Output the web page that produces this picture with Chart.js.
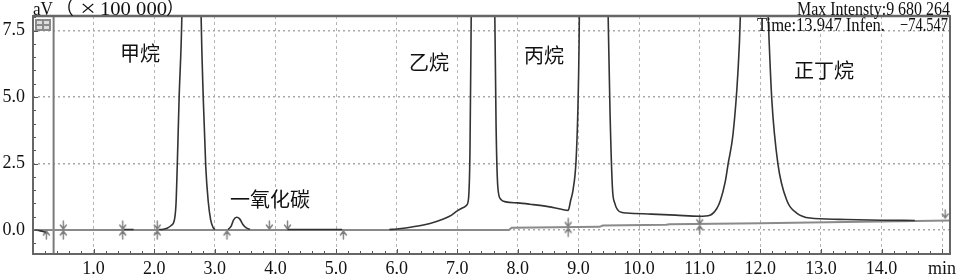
<!DOCTYPE html>
<html><head><meta charset="utf-8">
<style>html,body{margin:0;padding:0;background:#fff;}canvas{display:block;}</style>
<script src="https://cdn.jsdelivr.net/npm/chart.js@4/dist/chart.umd.min.js"></script>
</head><body>
<canvas id="c" width="957" height="279"></canvas>
<script>
// ---- data ----
const sigTime = [0.03,0.12,0.21,0.3,
 1.50,1.66,1.7,
 2.08,2.15,2.22,2.28,2.33,2.36,2.38,2.41,2.46,2.52,2.62,2.71,2.77,2.81,2.85,2.89,2.93,2.97,3.0,3.05,
 3.22,3.27,3.31,3.36,3.41,3.46,3.52,3.58,3.6,
 4.2,5.1,5.15,
 5.88,6.0,6.15,6.4,6.55,6.75,6.9,7.0,7.1,7.16,7.19,7.21,7.23,7.27,7.35,7.45,7.54,7.59,7.62,7.64,7.67,7.72,7.8,8.0,8.2,8.5,8.72,8.83,8.87,8.91,8.96,8.99,9.01,9.04,9.2,9.4,9.45,9.49,9.52,9.56,9.6,9.65,9.72,9.8,10.2,10.6,11.0,11.17,11.28,11.34,11.42,11.47,11.55,11.63,11.67,11.72,11.9,12.06,12.13,12.19,12.29,12.44,12.6,12.82,13.3,14.0,14.55];
const sigValue = [0,-0.03,-0.08,null,
 0.02,0.02,null,
 0.02,0.03,0.08,0.17,0.35,1.0,2.4,4.9,8.5,20,40,20,8.5,4.9,2.4,1.1,0.4,0.1,0.02,null,
 0.02,0.15,0.38,0.48,0.42,0.22,0.08,0.03,null,
 0.02,0.02,null,
 0.02,0.04,0.08,0.17,0.25,0.4,0.55,0.72,0.85,0.95,1.3,3,8,20,45,45,20,10,8,4,1.6,1.15,1.06,1.02,0.97,0.88,0.78,0.74,1.1,1.5,2.6,4.5,7,15,50,20,12,8,4.5,1.6,1.0,0.75,0.66,0.64,0.6,0.56,0.52,0.56,0.8,1.1,1.8,2.5,3.6,5.9,8,14,96.8,14,8,4.9,2.5,1.1,0.64,0.45,0.4,0.37,0.36];
const baseTime = [0,7.85,7.9,9.35,9.4,10.45,10.5,12.0,13.1,14.0,15.13];
const baseValue = [0,0,0.09,0.12,0.17,0.2,0.22,0.26,0.29,0.32,0.36];
const markTime = [0.22,0.5,1.48,2.05,3.2,3.9,4.2,5.12,8.83,11.0,15.05];
const markValue = [0,0,0,0,0,0,0,0,0.1,0.2,0.42];
const markKind = ['up','star','star','star','up','down','down','up','star','star','down'];
const xTicks = [1,2,3,4,5,6,7,8,9,10,11,12,13,14,15];
const xTickLabels = ['1.0','2.0','3.0','4.0','5.0','6.0','7.0','8.0','9.0','10.0','11.0','12.0','13.0','14.0','min'];
const yTicks = [0,2.5,5,7.5];
const yTickLabels = ['0.0','2.5','5.0','7.5'];
const peakNames = ['甲烷','一氧化碳','乙烷','丙烷','正丁烷'];
const yUnitParts = ['aV','（','×','100 000','）'];
const infoLine1 = 'Max Intensty:9 680 264';
const infoLine2a = 'Time:13.947 Infen.';
const infoLine2b = '−74.547';

// ---- marker glyphs ----
function makeMarker(kind){
  const c=document.createElement('canvas'); c.width=11; c.height=22;
  const g=c.getContext('2d'); g.strokeStyle='#7c7c7c'; g.lineWidth=1.4; g.lineCap='round';
  const cx=5.5, cy=11;
  function up(){ g.beginPath(); g.moveTo(cx,cy+9); g.lineTo(cx,cy+1); g.moveTo(cx-3,cy+5); g.lineTo(cx,cy+1); g.lineTo(cx+3,cy+5); g.stroke(); }
  function down(){ g.beginPath(); g.moveTo(cx,cy-9); g.lineTo(cx,cy-1); g.moveTo(cx-3,cy-5); g.lineTo(cx,cy-1); g.lineTo(cx+3,cy-5); g.stroke(); }
  if(kind==='up') up(); else if(kind==='down') down(); else { up(); down(); }
  return c;
}
const glyphs = {up:makeMarker('up'), down:makeMarker('down'), star:makeMarker('star')};

const serif = '"Liberation Serif","Times New Roman",serif';
const cjk = '"Noto Sans CJK SC","Noto Sans CJK JP",sans-serif';

function fitText(ctx, text, x, y, w, align, allowStretch){
  const m = ctx.measureText(text).width;
  let s = w/m; if(!allowStretch) s = Math.min(1,s);
  ctx.save(); ctx.translate(x,y); ctx.scale(s,1);
  ctx.textAlign = align; ctx.fillText(text,0,0); ctx.restore();
}

const decor = {
  id:'decor',
  beforeDatasetsDraw(chart){
    const {ctx, chartArea:a, scales:{x}} = chart;
    ctx.save();
    const px = x.getPixelForValue(0.34);
    ctx.strokeStyle='#7a7a7a'; ctx.lineWidth=2;
    ctx.beginPath(); ctx.moveTo(px,a.top); ctx.lineTo(px,a.bottom); ctx.stroke();
    ctx.restore();
  },
  afterDraw(chart){
    const {ctx, chartArea:a, scales:{x,y}} = chart;
    ctx.save();
    // inward minor ticks
    ctx.strokeStyle='#555'; ctx.lineWidth=1;
    for(let i=1;i<=80;i++){
      const px=Math.round(x.getPixelForValue(i*0.2))+0.5;
      if(px>a.right-1) break;
      ctx.beginPath(); ctx.moveTo(px,a.bottom); ctx.lineTo(px,a.bottom-(i%5===0?5:3)); ctx.stroke();
    }
    for(let i=-1;i<=16;i++){
      const py=Math.round(y.getPixelForValue(i*0.5))+0.5;
      if(py<a.top+1||py>a.bottom-1) continue;
      ctx.beginPath(); ctx.moveTo(a.left,py); ctx.lineTo(a.left+(i%5===0?5:3),py); ctx.stroke();
    }
    // frame
    ctx.strokeStyle='#666'; ctx.lineWidth=2;
    ctx.strokeRect(a.left,a.top,a.right-a.left,a.bottom-a.top);
    ctx.beginPath(); ctx.lineWidth=2.5; ctx.moveTo(a.left,a.top); ctx.lineTo(a.right,a.top); ctx.stroke();
    // small legend glyph
    ctx.fillStyle='#8a8a8a'; ctx.fillRect(a.left+2,a.top+3,16,12);
    ctx.fillStyle='#ddd'; ctx.fillRect(a.left+4,a.top+5,5,3); ctx.fillRect(a.left+11,a.top+5,5,3);
    ctx.fillRect(a.left+4,a.top+10,5,3); ctx.fillRect(a.left+11,a.top+10,5,3);
    // unit title
    ctx.fillStyle='#111'; ctx.textBaseline='alphabetic';
    ctx.font='19px '+serif; fitText(ctx, yUnitParts[0], 33, 15, 20, 'left', true);
    ctx.font='19px '+cjk; ctx.textAlign='left'; ctx.fillText(yUnitParts[1], 55, 15);
    ctx.font='24px '+serif; fitText(ctx, yUnitParts[2], 80, 16, 16, 'left', true);
    ctx.font='19px '+serif; fitText(ctx, yUnitParts[3], 100, 15, 67, 'left', true);
    ctx.font='19px '+cjk; ctx.textAlign='left'; ctx.fillText(yUnitParts[4], 166, 15);
    // info
    ctx.font='19px '+serif;
    fitText(ctx, infoLine1, 950, 15, 153, 'right', true);
    fitText(ctx, infoLine2a, 757, 31, 128, 'left', true);
    fitText(ctx, infoLine2b, 948, 31, 48, 'right', true);
    // peak names
    ctx.font='20px '+cjk; ctx.textAlign='center'; ctx.textBaseline='middle';
    const pos=[[140,53],[270,199],[429,62],[544,55],[824,70]];
    peakNames.forEach((n,i)=>ctx.fillText(n,pos[i][0],pos[i][1]));
    ctx.restore();
  }
};

const sigData = sigTime.map((t,i)=>({x:t,y:sigValue[i]}));
const baseData = baseTime.map((t,i)=>({x:t,y:baseValue[i]}));
const markData = markTime.map((t,i)=>({x:t,y:markValue[i]}));

new Chart(document.getElementById('c'),{
  type:'line',
  data:{datasets:[
    {data:sigData, borderColor:'#333', borderWidth:1.6, pointRadius:0, spanGaps:false, cubicInterpolationMode:'monotone', tension:0.4, order:0},
    {data:markData, showLine:false, pointRadius:5, pointStyle:(c)=>glyphs[markKind[c.dataIndex]], order:1},
    {data:baseData, borderColor:'#8a8a8a', borderWidth:2, pointRadius:0, tension:0, order:2}
  ]},
  options:{
    responsive:false, animation:false, parsing:true,
    layout:{padding:{top:16,right:7,left:0,bottom:0}},
    plugins:{legend:{display:false}, tooltip:{enabled:false}},
    scales:{
      x:{type:'linear', min:0, max:15.13,
        afterBuildTicks:(s)=>{s.ticks=xTicks.map(v=>({value:v}));},
        afterFit:(s)=>{s.height=25; s.paddingLeft=0; s.paddingRight=0;},
        ticks:{autoSkip:false, maxRotation:0, padding:4, color:'#111', font:{family:serif,size:18},
          callback:(v)=>xTickLabels[xTicks.indexOf(v)]},
        grid:{color:'#b5b5b5', lineWidth:1, drawTicks:false},
        border:{display:false, dash:[3,3]}
      },
      y:{type:'linear', min:-0.9, max:8.045,
        afterBuildTicks:(s)=>{s.ticks=yTicks.map(v=>({value:v}));},
        afterFit:(s)=>{s.width=33; s.paddingTop=0; s.paddingBottom=0;},
        ticks:{padding:8, color:'#111', font:{family:serif,size:18},
          callback:(v)=>yTickLabels[yTicks.indexOf(v)]},
        grid:{color:'#a8a8a8', lineWidth:1.5, drawTicks:false},
        border:{display:false, dash:[2,3]}
      }
    }
  },
  plugins:[decor]
});
</script>
</body></html>
